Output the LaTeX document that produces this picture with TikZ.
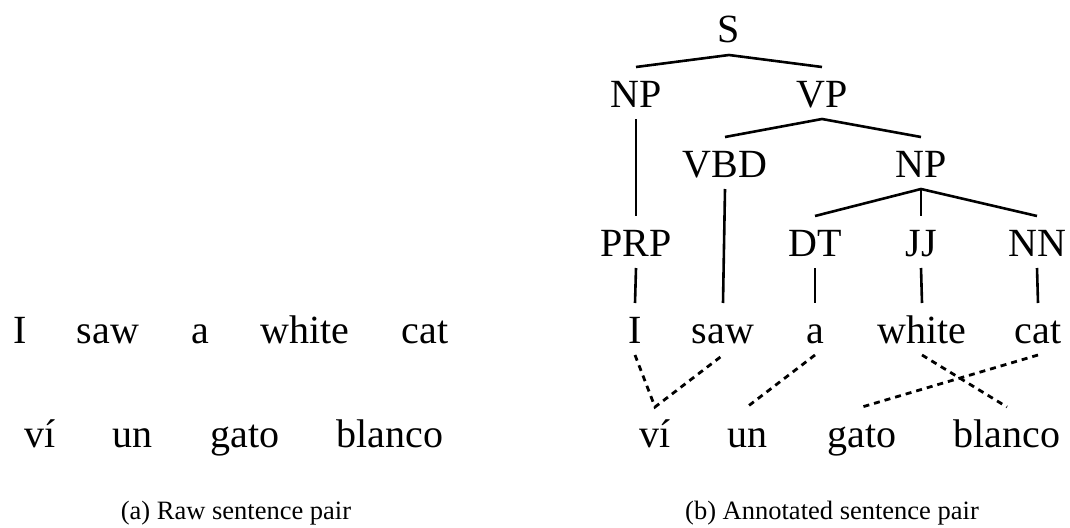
\documentclass[tikz,border=0pt]{standalone}
\usepackage{fontspec}
\setmainfont{Liberation Serif}

\begin{document}
\begin{tikzpicture}[x=1pt,y=-1pt,
    word/.style={anchor=base,inner sep=12pt,outer sep=0pt,text height=28pt,text depth=0pt,font=\wordfontsize},
    branch/.style={line width=2.6pt},
    alignment/.style={line width=2.8pt,dash pattern=on 6pt off 5pt}]
    \providecommand{\wordfontsize}{\fontsize{40pt}{48pt}\selectfont}
    \providecommand{\captionfontsize}{\fontsize{26.5pt}{32pt}\selectfont}
    \useasboundingbox (0,0) rectangle (1070,527);
    % raw pair
    \node[word] (rawI) at (20,343) {I};
    \node[word] (rawsaw) at (108,343) {saw};
    \node[word] (rawa) at (200,343) {a};
    \node[word] (rawwhite) at (305,343) {white};
    \node[word] (rawcat) at (425,343) {cat};
    \node[word] (rawvi) at (40,447) {ví};
    \node[word] (rawun) at (132,447) {un};
    \node[word] (rawgato) at (245,447) {gato};
    \node[word] (rawblanco) at (390,447) {blanco};
    \node[anchor=base,font=\captionfontsize] (capraw) at (236,519) {(a) Raw sentence pair};
    % annotated pair
    \node[word] (S) at (729,43) {S};
    \node[word] (NPa) at (636,107) {NP};
    \node[word] (VP) at (822,107) {VP};
    \node[word] (VBD) at (725,177) {VBD};
    \node[word] (NPb) at (921,177) {NP};
    \node[word] (PRP) at (636,256) {PRP};
    \node[word] (DT) at (815,256) {DT};
    \node[word] (JJ) at (921,256) {JJ};
    \node[word] (NN) at (1037,256) {NN};
    \node[word] (I) at (635,343) {I};
    \node[word] (saw) at (723,343) {saw};
    \node[word] (a) at (815,343) {a};
    \node[word] (white) at (922,343) {white};
    \node[word] (cat) at (1038,343) {cat};
    \node[word] (vi) at (655,447) {ví};
    \node[word] (un) at (747,447) {un};
    \node[word] (gato) at (862,447) {gato};
    \node[word] (blanco) at (1007,447) {blanco};
    \node[anchor=base,font=\captionfontsize] (capannot) at (832,519) {(b) Annotated sentence pair};
    \draw[branch] (NPa.north) -- (S.south) -- (VP.north);
    \draw[branch] (NPa.south) -- (PRP.north);
    \draw[branch] (VBD.north) -- (VP.south) -- (NPb.north);
    \draw[branch] (VBD.south) -- (saw.north);
    \draw[branch] (DT.north) -- (NPb.south) -- (NN.north);
    \draw[branch] (NPb.south) -- (JJ.north);
    \draw[branch] (PRP.south) -- (I.north);
    \draw[branch] (DT.south) -- (a.north);
    \draw[branch] (JJ.south) -- (white.north);
    \draw[branch] (NN.south) -- (cat.north);
    \draw[alignment] (I.south) -- (vi.north) -- (saw.south);
    \draw[alignment] (a.south) -- (un.north);
    \draw[alignment] (white.south) -- (blanco.north);
    \draw[alignment] (cat.south) -- (gato.north);
\end{tikzpicture}
\end{document}
